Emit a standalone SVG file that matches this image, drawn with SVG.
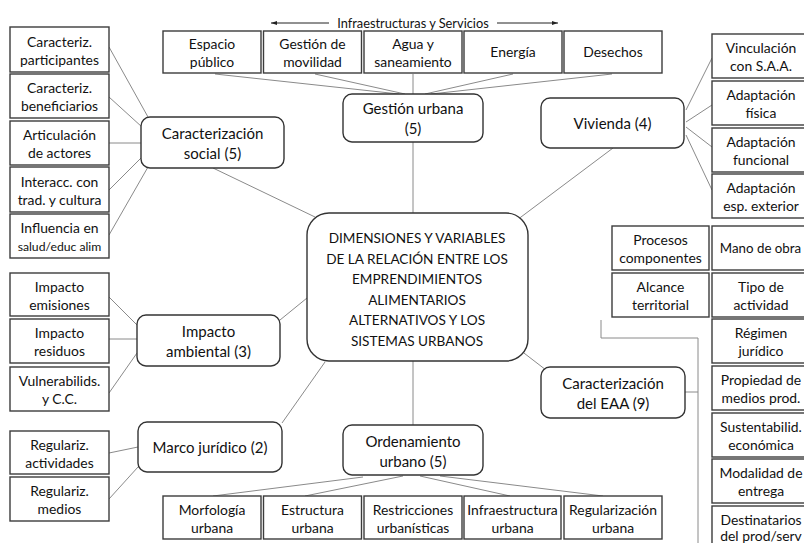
<svg xmlns="http://www.w3.org/2000/svg" width="804" height="543" viewBox="0 0 804 543">
<defs>
<style>
.b{fill:#fff;stroke:#3c3c3c;stroke-width:1.4}
.r{fill:#fff;stroke:#333;stroke-width:1.4}
.c{stroke:#8a8a8a;stroke-width:1;fill:none}
text{font-family:Lato,"Liberation Sans",sans-serif;fill:#111;text-anchor:middle}
.s{font-size:13.9px}
.m{font-size:15px}
.t{font-size:13.6px}
.h{font-size:12.8px}
</style>
<marker id="ah" viewBox="0 0 10 10" refX="10" refY="5" markerWidth="6" markerHeight="6" orient="auto-start-reverse" markerUnits="userSpaceOnUse"><path d="M0,1.5 L10,5 L0,8.5 Z" fill="#222"/></marker>
</defs>
<rect width="804" height="543" fill="#fff"/>

<g id="connectors">
<line class="c" x1="109" y1="47" x2="148" y2="117"/>
<line class="c" x1="109" y1="97" x2="142" y2="127"/>
<line class="c" x1="109" y1="143" x2="141" y2="143"/>
<line class="c" x1="109" y1="190" x2="141" y2="158"/>
<line class="c" x1="109" y1="235" x2="148" y2="167"/>
<line class="c" x1="213" y1="168" x2="315" y2="217"/>
<line class="c" x1="215" y1="74" x2="399" y2="94"/>
<line class="c" x1="315" y1="74" x2="405" y2="94"/>
<line class="c" x1="413" y1="74" x2="413" y2="94"/>
<line class="c" x1="513" y1="74" x2="425" y2="94"/>
<line class="c" x1="612" y1="74" x2="431" y2="94"/>
<line class="c" x1="413" y1="142" x2="413" y2="213"/>
<line class="c" x1="686" y1="110" x2="712" y2="58"/>
<line class="c" x1="686" y1="122" x2="712" y2="105"/>
<line class="c" x1="686" y1="127" x2="712" y2="147"/>
<line class="c" x1="686" y1="135" x2="712" y2="190"/>
<line class="c" x1="613" y1="148" x2="517" y2="220"/>
<line class="c" x1="109" y1="297" x2="137" y2="325"/>
<line class="c" x1="109" y1="339" x2="137" y2="339"/>
<line class="c" x1="109" y1="393" x2="137" y2="353"/>
<line class="c" x1="280" y1="320" x2="307" y2="298"/>
<line class="c" x1="109" y1="453" x2="138" y2="447"/>
<line class="c" x1="109" y1="499" x2="138" y2="467"/>
<line class="c" x1="282" y1="423" x2="325" y2="362"/>
<line class="c" x1="413" y1="361" x2="413" y2="425"/>
<line class="c" x1="363" y1="477" x2="213" y2="496"/>
<line class="c" x1="403" y1="476" x2="305" y2="496"/>
<line class="c" x1="420" y1="476" x2="510" y2="496"/>
<line class="c" x1="440" y1="476" x2="603" y2="496"/>
<line class="c" x1="520" y1="350" x2="546" y2="370"/>
<line class="c" x1="685" y1="392" x2="698" y2="392"/>
<polyline class="c" points="601,320 601,338 698,338 698,543"/>
<line x1="329" y1="23" x2="271" y2="23" stroke="#222" stroke-width="1" marker-end="url(#ah)"/>
<line x1="497" y1="23" x2="558" y2="23" stroke="#222" stroke-width="1" marker-end="url(#ah)"/>
</g>
<text class="h" x="413" y="27.5">Infraestructuras y Servicios</text>

<g id="center"><rect class="r" x="307" y="213" width="221" height="148" rx="22"/>
<text class="t" x="417" y="243">DIMENSIONES Y VARIABLES</text>
<text class="t" x="417" y="263.6">DE LA RELACIÓN ENTRE LOS</text>
<text class="t" x="417" y="284.2">EMPRENDIMIENTOS</text>
<text class="t" x="417" y="304.8">ALIMENTARIOS</text>
<text class="t" x="417" y="325.4">ALTERNATIVOS Y LOS</text>
<text class="t" x="417" y="346">SISTEMAS URBANOS</text></g>

<g id="gestion-urbana"><rect class="r" x="343" y="94" width="140" height="48" rx="9"/><text class="m" x="413" y="114">Gestión urbana</text><text class="m" x="413" y="134">(5)</text></g>
<g id="espacio-publico"><rect class="b" x="163" y="31" width="98" height="42"/><text class="s" x="212" y="49">Espacio</text><text class="s" x="212" y="67">público</text></g>
<g id="gestion-movilidad"><rect class="b" x="263.5" y="31" width="98" height="42"/><text class="s" x="312.5" y="49">Gestión de</text><text class="s" x="312.5" y="67">movilidad</text></g>
<g id="agua"><rect class="b" x="364" y="31" width="98" height="42"/><text class="s" x="413" y="49">Agua y</text><text class="s" x="413" y="67">saneamiento</text></g>
<g id="energia"><rect class="b" x="464" y="31" width="98" height="42"/><text class="s" x="513" y="57">Energía</text></g>
<g id="desechos"><rect class="b" x="564" y="31" width="98" height="42"/><text class="s" x="613" y="57">Desechos</text></g>

<g id="caracterizacion-social"><rect class="r" x="141" y="117" width="143" height="51" rx="9"/><text class="m" x="212.5" y="139">Caracterización</text><text class="m" x="212.5" y="159">social (5)</text></g>
<g id="s1"><rect class="b" x="10" y="27" width="99" height="45"/><text class="s" x="59.5" y="46.5">Caracteriz.</text><text class="s" x="59.5" y="64.5">participantes</text></g>
<g id="s2"><rect class="b" x="10" y="74" width="99" height="44"/><text class="s" x="59.5" y="93">Caracteriz.</text><text class="s" x="59.5" y="111">beneficiarios</text></g>
<g id="s3"><rect class="b" x="10" y="121" width="99" height="44"/><text class="s" x="59.5" y="140">Articulación</text><text class="s" x="59.5" y="158">de actores</text></g>
<g id="s4"><rect class="b" x="10" y="167" width="99" height="45"/><text class="s" x="59.5" y="186.5">Interacc. con</text><text class="s" x="59.5" y="204.5">trad. y cultura</text></g>
<g id="s5"><rect class="b" x="10" y="214" width="99" height="44"/><text class="s" x="59.5" y="233">Influencia en</text><text x="59.5" y="251" style="font-size:12.2px">salud/educ alim</text></g>

<g id="vivienda"><rect class="r" x="541" y="98" width="143" height="50" rx="9"/><text class="m" x="612.5" y="128.5">Vivienda (4)</text></g>
<g id="v1"><rect class="b" x="712" y="34" width="100" height="44"/><text class="s" x="761" y="53">Vinculación</text><text class="s" x="761" y="71">con S.A.A.</text></g>
<g id="v2"><rect class="b" x="712" y="81" width="100" height="44"/><text class="s" x="761" y="100">Adaptación</text><text class="s" x="761" y="118">física</text></g>
<g id="v3"><rect class="b" x="712" y="128" width="100" height="44"/><text class="s" x="761" y="147">Adaptación</text><text class="s" x="761" y="165">funcional</text></g>
<g id="v4"><rect class="b" x="712" y="174" width="100" height="44"/><text class="s" x="761" y="193">Adaptación</text><text class="s" x="761" y="211">esp. exterior</text></g>

<g id="impacto-ambiental"><rect class="r" x="137" y="315" width="143" height="51" rx="9"/><text class="m" x="208.5" y="336.5">Impacto</text><text class="m" x="208.5" y="356.5">ambiental (3)</text></g>
<g id="i1"><rect class="b" x="10" y="273" width="99" height="43"/><text class="s" x="59.5" y="291.5">Impacto</text><text class="s" x="59.5" y="309.5">emisiones</text></g>
<g id="i2"><rect class="b" x="10" y="319" width="99" height="44"/><text class="s" x="59.5" y="338">Impacto</text><text class="s" x="59.5" y="356">residuos</text></g>
<g id="i3"><rect class="b" x="10" y="367" width="99" height="44"/><text class="s" x="59.5" y="386">Vulnerabilids.</text><text class="s" x="59.5" y="404">y C.C.</text></g>

<g id="marco-juridico"><rect class="r" x="138" y="422" width="144" height="50" rx="9"/><text class="m" x="210" y="452.5">Marco jurídico (2)</text></g>
<g id="m1"><rect class="b" x="10" y="431" width="99" height="43"/><text class="s" x="59.5" y="449.5">Regulariz.</text><text class="s" x="59.5" y="467.5">actividades</text></g>
<g id="m2"><rect class="b" x="10" y="477" width="99" height="44"/><text class="s" x="59.5" y="496">Regulariz.</text><text class="s" x="59.5" y="514">medios</text></g>

<g id="ordenamiento-urbano"><rect class="r" x="343" y="425" width="140" height="50" rx="9"/><text class="m" x="413" y="447">Ordenamiento</text><text class="m" x="413" y="467">urbano (5)</text></g>
<g id="o1"><rect class="b" x="163" y="496" width="98" height="43"/><text class="s" x="212" y="514.5">Morfología</text><text class="s" x="212" y="532.5">urbana</text></g>
<g id="o2"><rect class="b" x="263.5" y="496" width="98" height="43"/><text class="s" x="312.5" y="514.5">Estructura</text><text class="s" x="312.5" y="532.5">urbana</text></g>
<g id="o3"><rect class="b" x="364" y="496" width="98" height="43"/><text class="s" x="413" y="514.5">Restricciones</text><text class="s" x="413" y="532.5">urbanísticas</text></g>
<g id="o4"><rect class="b" x="464" y="496" width="97" height="43"/><text class="s" x="512.5" y="514.5">Infraestructura</text><text class="s" x="512.5" y="532.5">urbana</text></g>
<g id="o5"><rect class="b" x="564" y="496" width="98" height="43"/><text class="s" x="613" y="514.5">Regularización</text><text class="s" x="613" y="532.5">urbana</text></g>

<g id="caracterizacion-eaa"><rect class="r" x="541" y="367" width="144" height="51" rx="9"/><text class="m" x="613" y="389">Caracterización</text><text class="m" x="613" y="409">del EAA (9)</text></g>
<g id="e-procesos"><rect class="b" x="612" y="226" width="97" height="44"/><text class="s" x="660.5" y="245">Procesos</text><text class="s" x="660.5" y="263">componentes</text></g>
<g id="e-alcance"><rect class="b" x="612" y="273" width="97" height="44"/><text class="s" x="660.5" y="292">Alcance</text><text class="s" x="660.5" y="310">territorial</text></g>
<g id="e-mano"><rect class="b" x="712" y="226" width="100" height="44"/><text x="760.5" y="253" style="font-size:13.3px">Mano de obra</text></g>
<g id="e-tipo"><rect class="b" x="712" y="273" width="100" height="44"/><text class="s" x="761" y="292">Tipo de</text><text class="s" x="761" y="310">actividad</text></g>
<g id="e-regimen"><rect class="b" x="712" y="319" width="100" height="44"/><text class="s" x="761" y="338">Régimen</text><text class="s" x="761" y="356">jurídico</text></g>
<g id="e-propiedad"><rect class="b" x="712" y="366" width="100" height="44"/><text class="s" x="761" y="385">Propiedad de</text><text class="s" x="761" y="403">medios prod.</text></g>
<g id="e-sustentab"><rect class="b" x="712" y="413" width="100" height="44"/><text class="s" x="761" y="432">Sustentabilid.</text><text class="s" x="761" y="450">económica</text></g>
<g id="e-modalidad"><rect class="b" x="712" y="459" width="100" height="44"/><text class="s" x="761" y="478">Modalidad de</text><text class="s" x="761" y="496">entrega</text></g>
<g id="e-destinatarios"><rect class="b" x="712" y="506" width="100" height="44"/><text class="s" x="761" y="525">Destinatarios</text><text class="s" x="761" y="541">del prod/serv</text></g>
</svg>
